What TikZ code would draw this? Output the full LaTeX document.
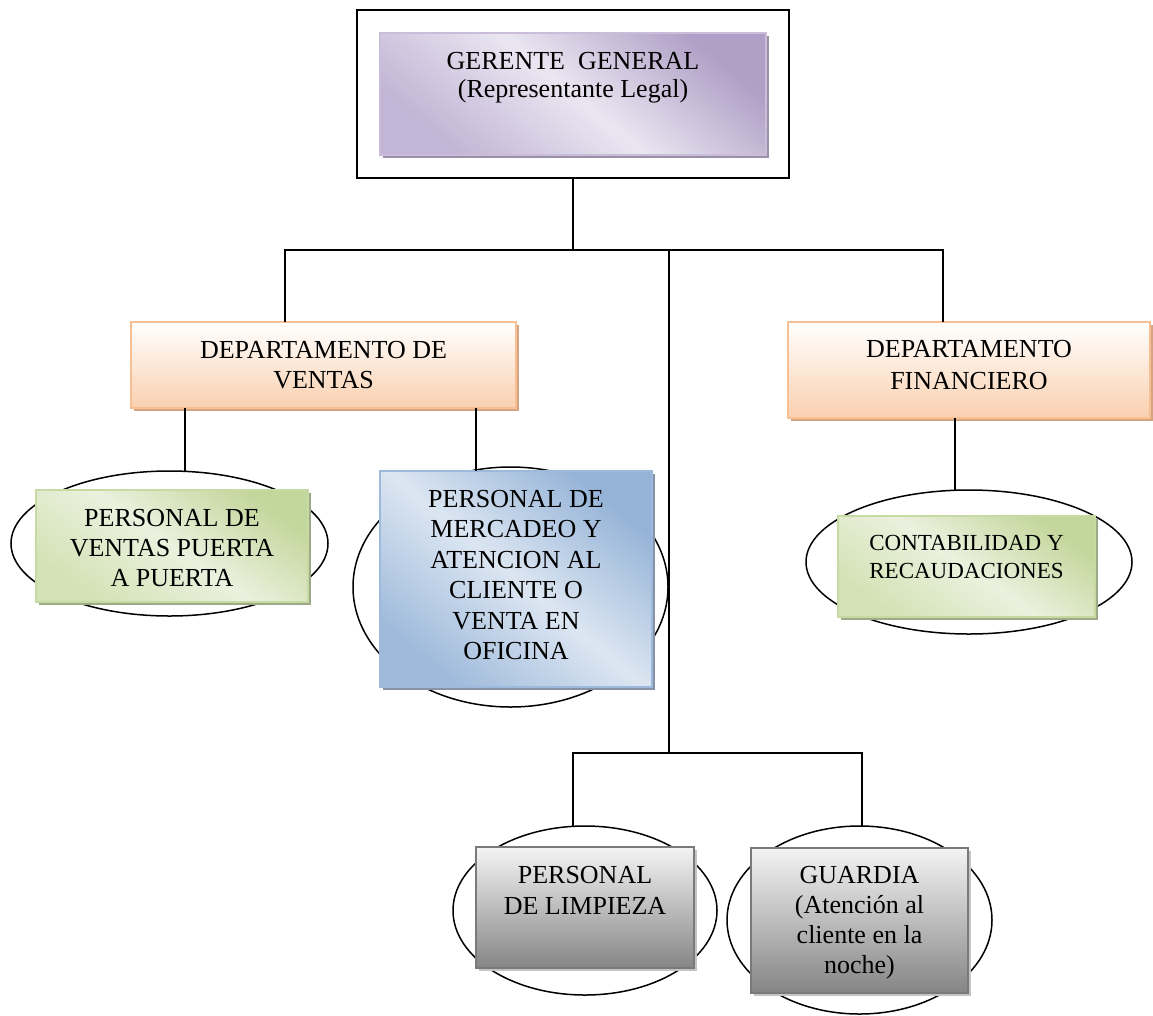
\documentclass[tikz,border=0pt]{standalone}
\usepackage{fontspec}
\setmainfont{Liberation Serif}
\usetikzlibrary{shapes.geometric,shadows}
\definecolor{purD}{HTML}{B09FC6}
\definecolor{purL}{HTML}{EAE6F1}
\definecolor{purM}{HTML}{C2B5D5}
\definecolor{purB}{HTML}{C9BDD9}
\definecolor{purS}{HTML}{9A90A8}
\definecolor{oraB}{HTML}{F8BF93}
\definecolor{oraD}{HTML}{FAD0AF}
\definecolor{oraS}{HTML}{D5A483}
\definecolor{greD}{HTML}{C3D69B}
\definecolor{greL}{HTML}{EBF1DE}
\definecolor{greM}{HTML}{D3E2B5}
\definecolor{greB}{HTML}{C8DAA3}
\definecolor{greS}{HTML}{9CAA86}
\definecolor{bluD}{HTML}{95B3D7}
\definecolor{bluL}{HTML}{DCE6F2}
\definecolor{bluM}{HTML}{9FBADB}
\definecolor{bluB}{HTML}{9DBADC}
\definecolor{bluS}{HTML}{8592A8}
\definecolor{graD}{HTML}{858585}
\definecolor{graL}{HTML}{F4F4F4}
\definecolor{graB}{HTML}{7A7A7A}
\definecolor{graS}{HTML}{C4C4C4}
\begin{document}
\begin{tikzpicture}[x=1pt,y=-1pt,
  base/.style={rectangle,inner sep=0pt,outer sep=0pt},
  dsh/.style={drop shadow={shadow xshift=3pt,shadow yshift=-3pt,opacity=1,fill=#1}},
  purbox/.style={base,draw=purB,line width=1.5pt,dsh=purS,top color=purD,bottom color=purM,middle color=purL,shading angle=-40},
  orabox/.style={base,draw=oraB,line width=2pt,dsh=oraS,top color=white,bottom color=oraD},
  grebox/.style={base,draw=greB,line width=2pt,dsh=greS,top color=greD,bottom color=greM,middle color=greL,shading angle=-35},
  blubox/.style={base,draw=bluB,line width=2pt,dsh=bluS,top color=bluD,bottom color=bluM,middle color=bluL,shading angle=-40},
  grabox/.style={base,draw=graB,line width=2pt,dsh=graS,top color=graL,bottom color=graD},
  frm/.style={base,draw=black,line width=1.5pt},
  ell/.style={ellipse,draw=black,line width=1.5pt,inner sep=0pt,outer sep=0pt},
  txt/.style={inner sep=0pt,outer sep=0pt,align=center,anchor=north,text=black},
  conn/.style={draw=black,line width=1.5pt}
]
\useasboundingbox (0,0) rectangle (1153,1015);

% top
\node[frm,minimum width=432pt,minimum height=168pt] (frame) at (573,94) {};
\node[purbox,minimum width=386pt,minimum height=122pt] (gg) at (573,94) {};
\node[txt,font=\fontsize{26}{28}\selectfont] (tgg) at ([yshift=-17pt]gg.north) {\strut GERENTE\ \ GENERAL\\(Representante Legal)};

% ellipses
\node[ell,minimum width=317pt,minimum height=145pt] (ell1) at (169.5,543.5) {};
\node[ell,minimum width=315pt,minimum height=240pt] (ell2) at (510.5,587) {};
\node[ell,minimum width=326pt,minimum height=144pt] (ell3) at (969,562) {};
\node[ell,minimum width=264pt,minimum height=169pt] (ell4) at (585,910.5) {};
\node[ell,minimum width=265pt,minimum height=188pt] (ell5) at (859.5,920) {};

% departments
\node[orabox,minimum width=385pt,minimum height=86pt] (ventas) at (323.5,365) {};
\node[txt,font=\fontsize{26}{30}\selectfont] (tventas) at ([yshift=-15pt]ventas.north) {\strut DEPARTAMENTO DE\\VENTAS};
\node[orabox,minimum width=362pt,minimum height=96pt] (fin) at (969,370) {};
\node[txt,font=\fontsize{26}{32.5}\selectfont] (tfin) at ([yshift=-12.5pt]fin.north) {\strut DEPARTAMENTO\\FINANCIERO};

% level 3 boxes
\node[grebox,minimum width=272pt,minimum height=112pt] (pv) at (172,546) {};
\node[txt,font=\fontsize{26}{30}\selectfont] (tpv) at ([yshift=-15pt]pv.north) {\strut PERSONAL DE\\VENTAS PUERTA\\A PUERTA};
\node[blubox,minimum width=272pt,minimum height=216pt] (pm) at (516,579) {};
\node[txt,font=\fontsize{26}{30.5}\selectfont] (tpm) at ([yshift=-14.7pt]pm.north) {\strut PERSONAL DE\\MERCADEO Y\\ATENCION AL\\CLIENTE O\\VENTA EN\\OFICINA};
\node[grebox,minimum width=257pt,minimum height=101pt] (cr) at (966.5,566.5) {};
\node[txt,font=\fontsize{23}{28}\selectfont] (tcr) at ([yshift=-14.4pt]cr.north) {\strut CONTABILIDAD Y\\RECAUDACIONES};
\node[grabox,minimum width=218pt,minimum height=121pt] (pl) at (585,907.5) {};
\node[txt,font=\fontsize{26}{31.5}\selectfont] (tpl) at ([yshift=-14.3pt]pl.north) {\strut PERSONAL\\DE LIMPIEZA};
\node[grabox,minimum width=217pt,minimum height=145pt] (gu) at (859.5,920.5) {};
\node[txt,font=\fontsize{26}{30}\selectfont] (tgu) at ([yshift=-14pt]gu.north) {\strut GUARDIA\\(Atención al\\cliente en la\\noche)};

% connector coordinates
\coordinate (j1) at (573,250);
\coordinate (bL) at (285,250);
\coordinate (bR) at (943,250);
\coordinate (j2) at (669,250);
\coordinate (j3) at (669,753);
\coordinate (cL) at (573,753);
\coordinate (cR) at (862,753);
\coordinate (v1) at (185,440);
\coordinate (v2) at (476,440);
\coordinate (f1) at (955,450);

\draw[conn] (frame.south) -- (j1);
\draw[conn] (ventas.north -| bL) -- (bL) -- (bR) -- (fin.north -| bR);
\draw[conn] (j2) -- (j3);
\draw[conn] (ell4.north -| cL) -- (cL) -- (cR) -- (ell5.north -| cR);
\draw[conn] (ventas.south -| v1) -- (ell1.north -| v1);
\draw[conn] (ventas.south -| v2) -- (pm.north -| v2);
\draw[conn] (fin.south -| f1) -- (ell3.north -| f1);
\end{tikzpicture}
\end{document}
